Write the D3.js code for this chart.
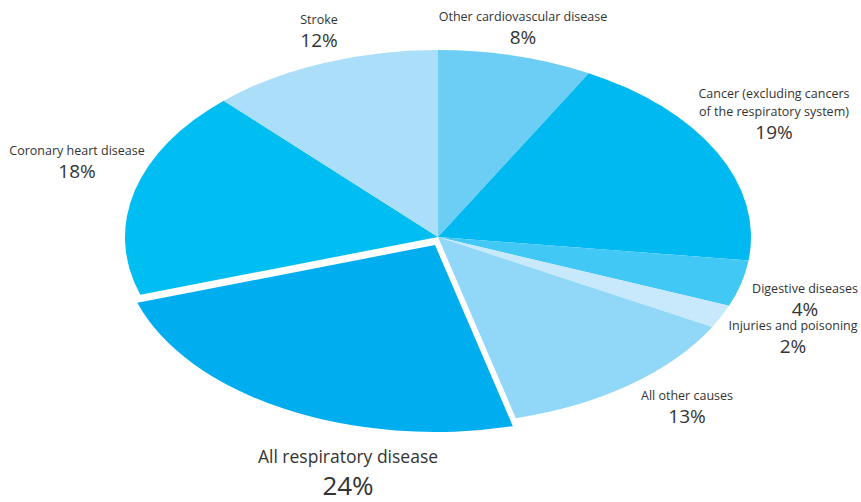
<!DOCTYPE html>
<html>
<head>
<meta charset="utf-8">
<script src="https://cdn.jsdelivr.net/npm/d3@7"></script>
<style>
  html, body { margin: 0; padding: 0; background: #fff; }
  svg { display: block; }
  text { font-family: "Open Sans", "DejaVu Sans", sans-serif; fill: #333; }
</style>
</head>
<body>
<svg id="chart" width="861" height="502"></svg>
<script>
// ---- data ----
const categories = [
  "Other cardiovascular disease",
  "Cancer (excluding cancers|of the respiratory system)",
  "Digestive diseases",
  "Injuries and poisoning",
  "All other causes",
  "All respiratory disease",
  "Coronary heart disease",
  "Stroke"
];
const values = [8, 19, 4, 2, 13, 24, 18, 12];
const colors = ["#6ccef5", "#00b9f0", "#42c8f5", "#c7e9fb", "#91d8f8", "#00aeef", "#00bdf2", "#abdff9"];
const exploded = [false, false, false, false, false, true, false, false];

// ---- layout (label anchor positions and sizes) ----
const labelPos = [
  [523, 21], [774, 98], [805, 293], [793, 330], [687, 400], [348, 463], [77, 155], [319, 24]
];
const bigLabel = [false, false, false, false, false, true, false, false];

const W = 861, H = 502;
const cx = 438, cy = 237, rx = 313, ry = 187;
const explodeOffset = [-3, 8];

const svg = d3.select("#chart");
const pie = d3.pie().sort(null).value(d => d).startAngle(0).endAngle(2 * Math.PI);
const arcs = pie(values);
const arc = d3.arc().innerRadius(0).outerRadius(rx);

const g = svg.append("g").attr("transform", `translate(${cx},${cy})`);

g.selectAll("g.slice")
  .data(arcs)
  .join("g")
  .attr("class", "slice")
  .attr("transform", (d, i) => exploded[i] ? `translate(${explodeOffset[0]},${explodeOffset[1]})` : null)
  .append("path")
  .attr("transform", `scale(1,${ry / rx})`)
  .attr("d", arc)
  .attr("fill", (d, i) => colors[i]);

// labels
const lg = svg.append("g");
categories.forEach((c, i) => {
  const lines = c.split("|");
  const [x, y] = labelPos[i];
  const big = bigLabel[i];
  const nameSize = big ? 17.5 : 12.5;
  const lh = big ? 18 : 18;
  const t = lg.append("text").attr("text-anchor", "middle").attr("font-size", nameSize);
  lines.forEach((ln, k) => {
    t.append("tspan").attr("x", x).attr("y", y + k * lh).text(ln);
  });
  const lastY = y + (lines.length - 1) * lh;
  lg.append("text")
    .attr("text-anchor", "middle")
    .attr("x", x)
    .attr("y", lastY + (big ? 32 : 23))
    .attr("font-size", big ? 26 : 19)
    .text(values[i] + "%");
});
</script>
</body>
</html>
